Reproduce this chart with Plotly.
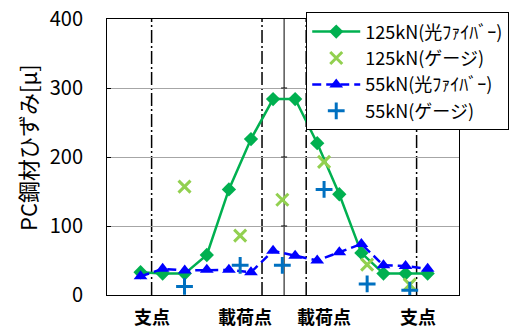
import plotly.graph_objects as go

# Measurement positions along the beam (fiber sensing points, index units)
fiber_x = list(range(14))
fiber_125 = [33, 31, 31, 58, 153, 226, 284, 284, 220, 146, 61, 31, 31, 31]
fiber_55 = [27, 38, 35.5, 36.5, 36.5, 33, 64, 57, 50, 62, 74, 43, 42, 38]

# Strain gauge positions and readings
gauge_x = [1.99, 4.51, 6.42, 8.31, 10.26, 12.19]
gauge_125 = [157, 86, 138, 193, 44, 15]
gauge_55 = [12.5, 43, 43, 153, 16, 7]

# Reference positions: supports, loading points and span centre
support_x = [0.5, 12.5]
load_x = [5.5, 7.5]
center_x = 6.5

# Position labels under the axis
label_text = ["支点", "載荷点", "載荷点", "支点"]
label_x = [0.5, 4.73, 8.29, 12.55]

y_ticks = [0, 100, 200, 300, 400]

JP = "Noto Sans CJK JP"

fig = go.Figure()

fig.add_trace(go.Scatter(
    x=fiber_x, y=fiber_125, mode="lines+markers",
    name="125kN(光ﾌｧｲﾊﾞｰ)", legendgroup="a",
    line=dict(color="#00B050", width=2.5),
    marker=dict(symbol="diamond", size=11, color="#00B050"),
))
fig.add_trace(go.Scatter(
    x=gauge_x, y=gauge_125, mode="markers",
    name="125kN(ゲージ)", legendgroup="b",
    marker=dict(symbol="x-thin", size=12, color="#92D050",
                line=dict(color="#92D050", width=3)),
))
fig.add_trace(go.Scatter(
    x=fiber_x, y=fiber_55, mode="lines+markers",
    name="55kN(光ﾌｧｲﾊﾞｰ)", legendgroup="c",
    line=dict(color="#0000FF", width=2.5, dash="9px,5px"),
    marker=dict(symbol="triangle-up", size=12, color="#0000FF"),
))
fig.add_trace(go.Scatter(
    x=gauge_x, y=gauge_55, mode="markers",
    name="55kN(ゲージ)", legendgroup="d",
    marker=dict(symbol="cross-thin", size=12, color="#0070C0",
                line=dict(color="#0070C0", width=3)),
))

shapes = []
for xv in support_x + load_x:
    shapes.append(dict(type="line", xref="x", yref="paper", x0=xv, x1=xv,
                       y0=0, y1=1, layer="below",
                       line=dict(color="black", width=1.5, dash="13px,3px,2px,3px")))
shapes.append(dict(type="line", xref="x", yref="paper", x0=center_x, x1=center_x,
                   y0=0, y1=1, layer="below", line=dict(color="black", width=1)))
# small cross ticks where the centre line meets each gridline
for yv in y_ticks[1:-1]:
    shapes.append(dict(type="line", xref="x", yref="y", xsizemode="pixel",
                       xanchor=center_x, x0=-3, x1=3, y0=yv, y1=yv,
                       line=dict(color="black", width=1)))

annotations = [
    dict(x=xv, y=0, xref="x", yref="paper", text=t, showarrow=False,
         yanchor="middle", yshift=-21,
         font=dict(family=JP, size=18, color="black", weight="bold"))
    for xv, t in zip(label_x, label_text)
]
annotations.append(dict(
    x=-0.227, y=0.533, xref="paper", yref="paper", text="PC鋼材ひずみ[μ]",
    showarrow=False, textangle=-90, xanchor="center", yanchor="middle",
    font=dict(family=JP, size=22, color="black"),
))

fig.update_layout(
    width=521, height=327,
    margin=dict(l=107, r=61, t=17, b=32),
    paper_bgcolor="white", plot_bgcolor="white",
    showlegend=True,
    legend=dict(
        x=0.566, y=1.024, xanchor="left", yanchor="top",
        bgcolor="white", bordercolor="black", borderwidth=1,
        font=dict(family=JP, size=18, color="black"),
        itemwidth=48, tracegroupgap=0,
    ),
    shapes=shapes,
    annotations=annotations,
    xaxis=dict(range=[-1.52, 14.42], showgrid=False, zeroline=False,
               showticklabels=False, ticks="", showline=True, mirror=True,
               linecolor="black", linewidth=1, automargin=False),
    yaxis=dict(range=[0, 400], tickvals=y_ticks, showgrid=True,
               gridcolor="#A6A6A6", gridwidth=1, zeroline=False,
               showline=True, mirror=True, linecolor="black", linewidth=1,
               ticks="inside", ticklen=4, tickcolor="black",
               ticklabelstandoff=19, automargin=False,
               tickfont=dict(family=JP, size=20, color="black")),
)

fig.write_html("out.html")
